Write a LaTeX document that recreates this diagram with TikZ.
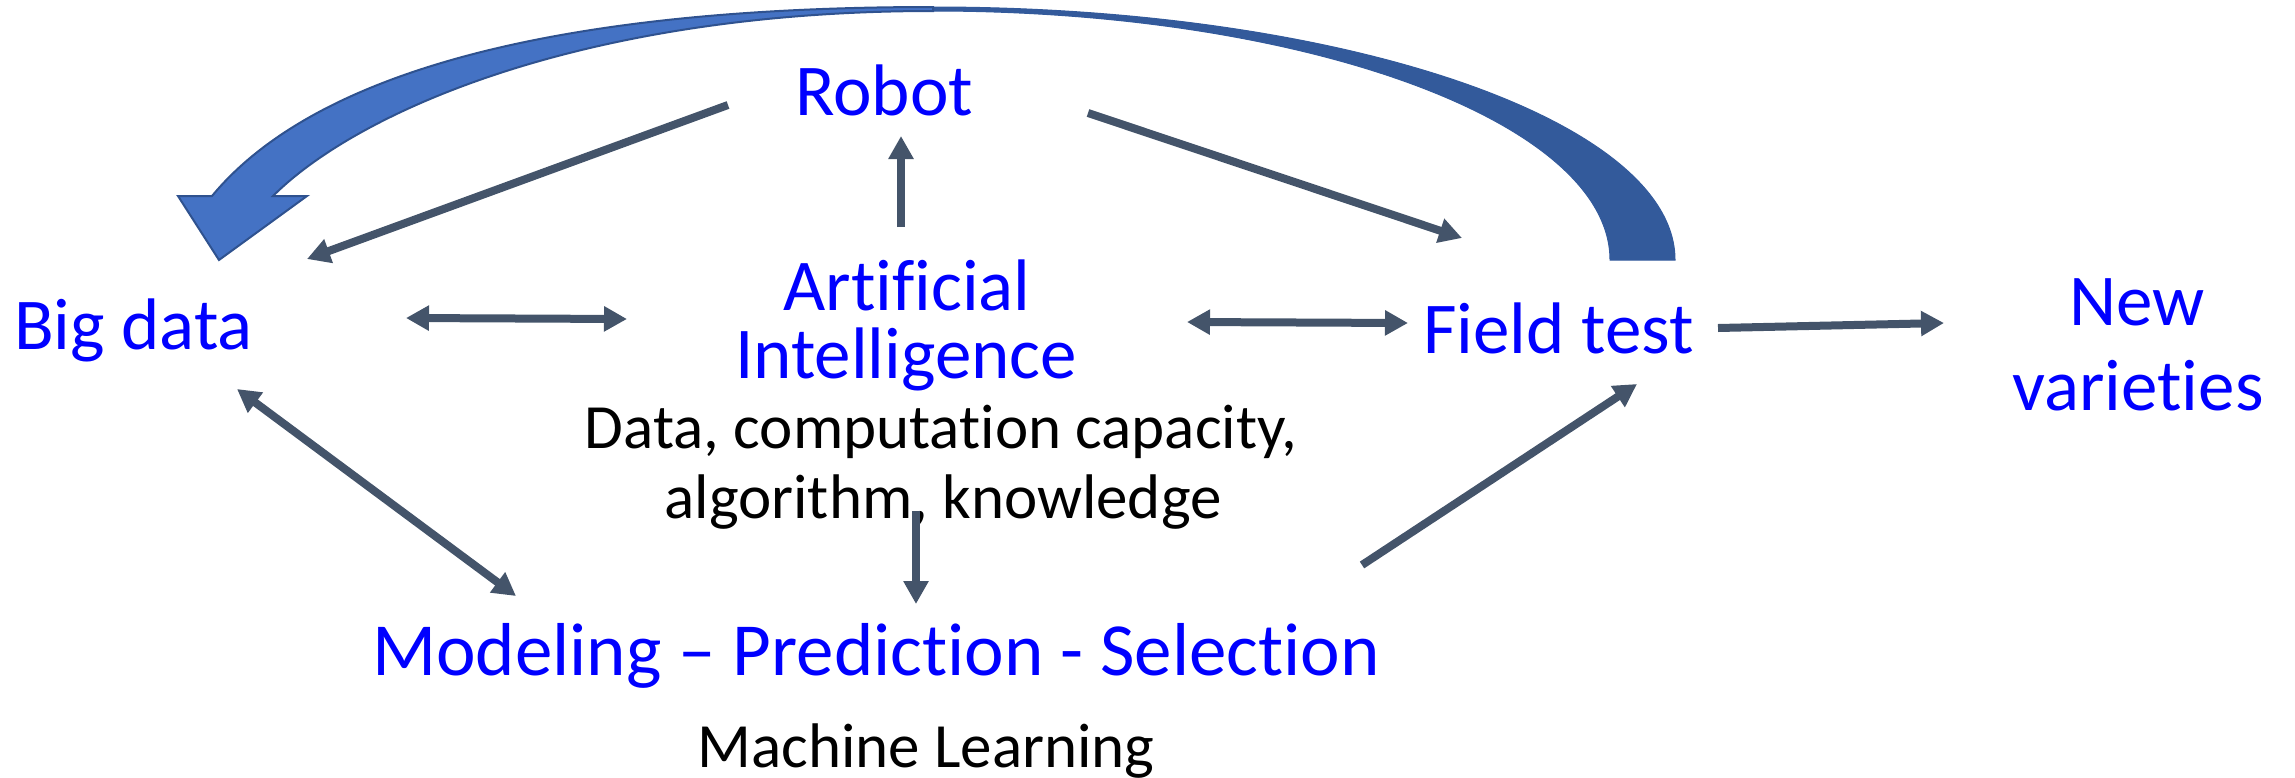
\documentclass[tikz,border=0pt]{standalone}
\usepackage{fontspec}
\setmainfont{Carlito}[Ligatures={NoCommon}]
\usetikzlibrary{arrows.meta}
\definecolor{termblue}{RGB}{0,0,255}
\definecolor{linkgray}{HTML}{44546A}
\definecolor{loopfront}{HTML}{4472C4}
\definecolor{loopback}{HTML}{335A9B}
\definecolor{loopedge}{HTML}{2F528F}
\tikzset{
  term/.style={inner sep=0pt, text=termblue, font=\fontsize{73}{80}\selectfont},
  note/.style={inner sep=0pt, text=black, font=\fontsize{63}{70}\selectfont},
  link/.style={draw=linkgray, line width=8pt, -{Triangle[length=23pt,width=24pt]}},
  twoway/.style={link, {Triangle[length=23pt,width=24pt]}-{Triangle[length=23pt,width=24pt]}}
}
\begin{document}
\begin{tikzpicture}[x=1pt, y=-1pt]
\useasboundingbox (0,0) rectangle (2295,777);

% big feedback arrow: back (darker) half, then front half with head
\path[fill=loopback, draw=loopback, line width=1pt]
  (1675,260) arc[start angle=0, end angle=-90, x radius=742, y radius=253]
  -- (933,11) arc[start angle=-90, end angle=0, x radius=677, y radius=249] -- cycle;
\path[fill=loopfront, draw=loopedge, line width=2pt, line join=miter]
  (933,7) .. controls (533,7) and (308,80) .. (212,196)
  -- (178,196) -- (219,260) -- (307,196) -- (273,196)
  .. controls (357,112) and (583,11) .. (933,11)
  -- cycle;

% labels
\node[term, anchor=base] (robot) at (884,115) {Robot};
\node[term, anchor=base] (ai1) at (907,310) {Artificial};
\node[term, anchor=base] (ai2) at (906,378) {Intelligence};
\node[note, anchor=base] (res1) at (941,448) {Data, computation capacity,};
\node[note, anchor=base] (res2) at (943,518) {algorithm, knowledge};
\node[term, anchor=base, font=\fontsize{75}{80}\selectfont] (model) at (876,675) {Modeling – Prediction - Selection};
\node[note, anchor=base] (ml) at (926,767) {Machine Learning};
\node[term, anchor=base west] (big) at (14,349) {Big data};
\node[term, anchor=base west] (field) at (1423,353) {Field test};
\node[term, anchor=base] (new1) at (2137,325) {New};
\node[term, anchor=base] (new2) at (2138,410) {varieties};

% connector end points
\coordinate (robotL) at (728,105);
\coordinate (bigTR) at (307,259);
\coordinate (robotR) at (1088,113);
\coordinate (fieldTL) at (1462,238);
\coordinate (aiTop) at (901,227);
\coordinate (robotB) at (901,136);
\coordinate (bigR) at (406,318);
\coordinate (aiL) at (627,319);
\coordinate (aiR) at (1187,322);
\coordinate (fieldL) at (1408,323);
\coordinate (fieldR) at (1718,328);
\coordinate (newL) at (1944,323);
\coordinate (modelR) at (1362,565);
\coordinate (fieldB) at (1637,384);
\coordinate (bigB) at (237,389);
\coordinate (modelL) at (516,596);
\coordinate (aiB) at (916,511);
\coordinate (modelT) at (916,604);

% connectors
\draw[link] (robotL) -- (bigTR);
\draw[link] (robotR) -- (fieldTL);
\draw[link] (aiTop) -- (robotB);
\draw[twoway] (bigR) -- (aiL);
\draw[twoway] (aiR) -- (fieldL);
\draw[link] (fieldR) -- (newL);
\draw[link] (modelR) -- (fieldB);
\draw[twoway] (bigB) -- (modelL);
\draw[link] (aiB) -- (modelT);
\end{tikzpicture}
\end{document}
